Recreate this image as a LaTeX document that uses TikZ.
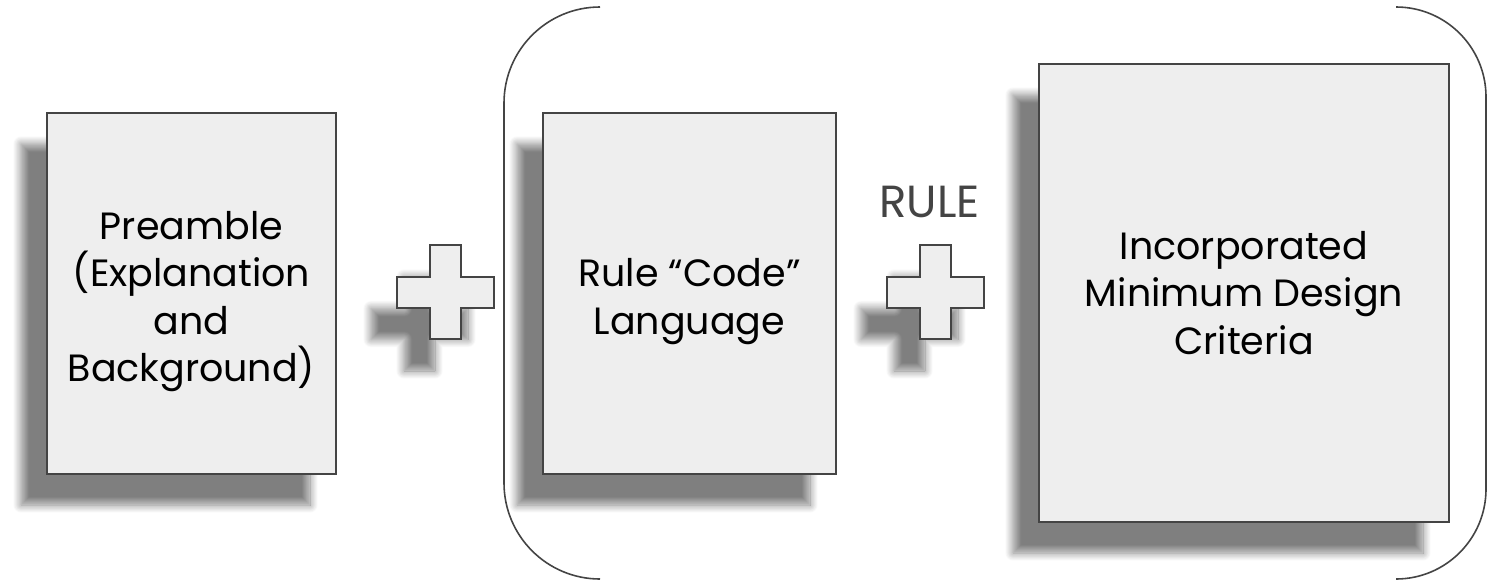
\documentclass[tikz,border=0pt]{standalone}
\usepackage{fontspec}
\setmainfont{Poppins}
\usetikzlibrary{shadows.blur}
\definecolor{edgegray}{HTML}{444444}
\definecolor{boxfill}{HTML}{EEEEEE}
\tikzset{panel/.style={rectangle,draw=edgegray,line width=2pt,fill=boxfill,inner sep=0pt,align=center,
    blur shadow={shadow xshift=-26pt,shadow yshift=-31pt,shadow blur radius=8pt,shadow blur steps=14,shadow opacity=50}}}
\tikzset{paneltext/.style={inner sep=0pt,align=center,font=\boxtext}}
\tikzset{plusbox/.style={draw=edgegray,line width=2pt,fill=boxfill,
    blur shadow={shadow xshift=-26pt,shadow yshift=-32pt,shadow blur radius=8pt,shadow blur steps=14,shadow opacity=50}}}
\tikzset{brace/.style={draw=edgegray,line width=1.6pt}}
\tikzset{plussign/.pic={\path[plusbox] (-15.5,-47) -- (15.5,-47) -- (15.5,-15.5) -- (48.5,-15.5) -- (48.5,15.5) -- (15.5,15.5) -- (15.5,47) -- (-15.5,47) -- (-15.5,15.5) -- (-48.5,15.5) -- (-48.5,-15.5) -- (-15.5,-15.5) -- cycle;}}
\newcommand{\boxtext}{\fontsize{38}{47.5}\selectfont}

\begin{document}
\begin{tikzpicture}[x=1pt,y=-1pt]
    \useasboundingbox (0,0) rectangle (1487,581);
    \node[panel,minimum width=289pt,minimum height=361pt] (preamble) at (191.5,293.5) {};
    \node[paneltext] (preambletext) at ([yshift=-8pt]preamble.center) {Preamble\\(Explanation\\and\\Background)};
    \node[panel,minimum width=293pt,minimum height=361pt] (code) at (689.5,293.5) {};
    \node[paneltext] (codetext) at ([yshift=-8pt]code.center) {Rule “Code”\\Language};
    \node[panel,minimum width=410pt,minimum height=458pt] (criteria) at (1244,293) {};
    \node[paneltext] (criteriatext) at (criteria.center) {Incorporated\\Minimum Design\\Criteria};
    \pic (plusa) at (445.5,292) {plussign};
    \pic (plusb) at (935.5,292) {plussign};
    \node[text=edgegray,inner sep=0pt,font=\fontsize{45}{50}\selectfont] (rule) at (929.5,201.5) {RULE};
    % round brackets
    \draw[brace] (600,7) arc[start angle=-90,end angle=-180,radius=96] -- (504,483) arc[start angle=-180,end angle=-270,radius=96];
    \draw[brace] (1396,7) arc[start angle=-90,end angle=0,radius=90] -- (1486,489) arc[start angle=0,end angle=90,radius=90];
\end{tikzpicture}
\end{document}
